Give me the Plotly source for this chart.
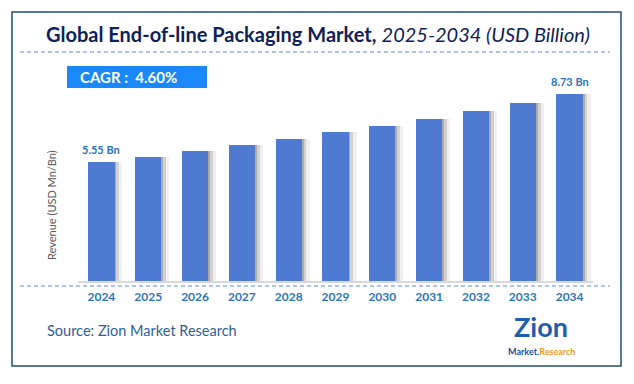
import plotly.graph_objects as go

years = ["2024", "2025", "2026", "2027", "2028", "2029", "2030", "2031", "2032", "2033", "2034"]
revenue = [5.55, 5.81, 6.07, 6.35, 6.64, 6.95, 7.27, 7.60, 7.95, 8.32, 8.73]
first_label = "5.55 Bn"
last_label = "8.73 Bn"
cagr_text = "CAGR :  4.60%"
title_bold = "Global End-of-line Packaging Market,"
title_rest = "2025-2034 (USD Billion)"
y_title = "Revenue (USD Mn/Bn)"
source_text = "Source: Zion Market Research"

W, H = 634, 384
ML, MR, MT, MB = 78, 41, 78, 103
PW, PH = W - ML - MR, H - MT - MB
FONT = "Lato, 'Open Sans', sans-serif"

def px(x):
    return (x - ML) / PW

def py(y):
    return (H - MB - y) / PH

def note(x, y, text, size, color, xanchor="center", **kw):
    fig.add_annotation(xref="paper", yref="paper", x=px(x), y=py(y), text=text,
                       showarrow=False, xanchor=xanchor, yanchor="middle",
                       font=dict(family=FONT, size=size, color=color), **kw)

fig = go.Figure()
xs = list(range(len(years)))
# shadow layers
fig.add_trace(go.Bar(x=xs, y=revenue, width=0.18, offset=0.27,
                     marker=dict(color="rgba(0,0,0,0.06)", line=dict(width=0)),
                     hoverinfo="skip", showlegend=False))
fig.add_trace(go.Bar(x=xs, y=revenue, width=0.11, offset=0.27,
                     marker=dict(color="rgba(0,0,0,0.12)", line=dict(width=0)),
                     hoverinfo="skip", showlegend=False))
fig.add_trace(go.Bar(x=xs, y=revenue, width=0.05, offset=0.27,
                     marker=dict(color="rgba(0,0,0,0.18)", line=dict(width=0)),
                     hoverinfo="skip", showlegend=False))
fig.add_trace(go.Bar(x=xs, y=revenue, width=0.56, offset=-0.28,
                     marker=dict(color="#4E7BD1", line=dict(width=0)),
                     showlegend=False))

labels = [""] * len(years)
labels[0] = first_label
labels[-1] = last_label
for i, lab in enumerate(labels):
    if lab:
        fig.add_annotation(x=i, y=revenue[i], text="<b>%s</b>" % lab, showarrow=False,
                           yshift=13, xanchor="center", yanchor="middle",
                           font=dict(family=FONT, size=11, color="#2E75B6"))

fig.update_layout(
    width=W, height=H, margin=dict(l=ML, r=MR, t=MT, b=MB, autoexpand=False),
    paper_bgcolor="white", plot_bgcolor="white",
    barmode="overlay", bargap=0,
    xaxis=dict(range=[-0.5, len(years) - 0.5], tickmode="array",
               tickvals=xs,
               ticktext=["<b>%s</b>" % y for y in years],
               tickfont=dict(family=FONT, size=12, color="#2E75B6"),
               showgrid=False, zeroline=False, showline=True, linecolor="#D9D9D9",
               linewidth=1.5, ticks="", ticklen=0, automargin=False,
               ticklabelstandoff=4),
    yaxis=dict(range=[0, 9.5], showticklabels=False, showgrid=False, zeroline=False,
               showline=False, ticks="", automargin=False),
    font=dict(family=FONT),
)

shapes = [
    dict(type="rect", xref="paper", yref="paper", x0=px(12), x1=px(621), y0=py(366), y1=py(12),
         line=dict(color="#1F4E79", width=1.5), fillcolor="rgba(0,0,0,0)", layer="above"),
    dict(type="line", xref="paper", yref="paper", x0=px(20), x1=px(610), y0=py(52), y1=py(52),
         line=dict(color="#5B8FD6", width=1, dash="4px,3px")),
    dict(type="line", xref="paper", yref="paper", x0=px(20), x1=px(610), y0=py(286), y1=py(286),
         line=dict(color="#5B8FD6", width=1, dash="4px,3px")),
    dict(type="rect", xref="paper", yref="paper", x0=px(67), x1=px(207), y0=py(88), y1=py(66),
         line=dict(width=0), fillcolor="#1A88F8"),
]
fig.update_layout(shapes=shapes)

note(318, 34, "<b>%s</b> <i>%s</i>" % (title_bold, title_rest), 20, "#0F2157")
note(128, 77, "<b>%s</b>" % cagr_text, 15, "white")
note(51, 205, y_title, 11, "#595959", textangle=-90)
note(45, 330, source_text, 14.5, "#2F5F96", xanchor="left")
# logo text
note(541, 326, "<b>Zion</b>", 27, "#1F5FAD")
note(541, 351, "<b><span style='color:#1F4E99'>Market.</span><span style='color:#F39A1E'>Research</span></b>",
     9, "#1F4E99")

fig.write_html("out.html", config={"displayModeBar": False},
               post_script="document.body.style.margin='0';")
